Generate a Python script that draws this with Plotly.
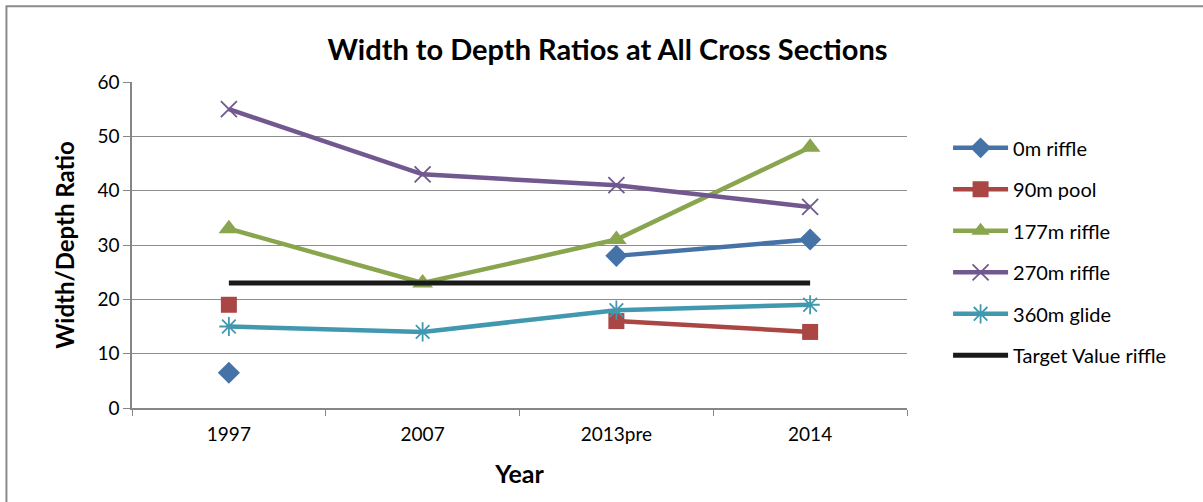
import plotly.graph_objects as go

years = ["1997", "2007", "2013pre", "2014"]

riffle_0m = [6.5, None, 28, 31]
pool_90m = [19, None, 16, 14]
riffle_177m = [33, 23, 31, 48]
riffle_270m = [55, 43, 41, 37]
glide_360m = [15, 14, 18, 19]
target_riffle = [23, 23, 23, 23]

FONT = "Lato"

series = [
    ("0m riffle", riffle_0m, "#4572A7", dict(symbol="diamond", size=17)),
    ("90m pool", pool_90m, "#AA4643", dict(symbol="square", size=16)),
    ("177m riffle", riffle_177m, "#89A54E", dict(symbol="triangle-up", size=18)),
    ("270m riffle", riffle_270m, "#71588F",
     dict(symbol="x-thin-open", size=16, line=dict(width=1.8, color="#71588F"))),
    ("360m glide", glide_360m, "#4198AF",
     dict(symbol="asterisk-open", size=16, line=dict(width=1.8, color="#4198AF"))),
]

fig = go.Figure()
for i, (name, vals, color, marker) in enumerate(series):
    fig.add_trace(go.Scatter(
        x=years, y=vals, name=name, mode="lines+markers",
        line=dict(color=color, width=4.5),
        marker=dict(color=color, **marker),
        connectgaps=False, legendgroup=f"g{i}",
    ))

fig.add_trace(go.Scatter(
    x=years, y=target_riffle, name="Target Value riffle", mode="lines",
    line=dict(color="#1a1a1a", width=5), legendgroup="g9",
))

fig.update_layout(
    width=1203, height=502,
    margin=dict(l=132, r=296, t=82, b=94),
    paper_bgcolor="white", plot_bgcolor="white",
    font=dict(family=FONT, size=19, color="black"),
    title=dict(text="<b>Width to Depth Ratios at All Cross Sections</b>",
               x=0.505, xanchor="center", y=0.9, yanchor="middle",
               font=dict(family=FONT, size=29, color="black")),
    showlegend=True,
    legend=dict(x=1.053, xanchor="left", y=0.858, yanchor="top",
                font=dict(family=FONT, size=20, color="black"),
                tracegroupgap=12.5, itemwidth=55, bgcolor="rgba(0,0,0,0)"),
    xaxis=dict(
        type="category", range=[-0.5, 3.5],
        showgrid=False, showline=True, linecolor="#868686", linewidth=1.5,
        ticks="outside", ticklen=6, tickcolor="#868686",
        tickson="boundaries", tickfont=dict(size=19), ticklabelstandoff=8,
        title=dict(text="<b>Year</b>", font=dict(size=25), standoff=22),
        zeroline=False,
    ),
    yaxis=dict(
        range=[0, 60], dtick=10,
        showgrid=True, gridcolor="#8c8c8c", gridwidth=1.2,
        showline=True, linecolor="#868686", linewidth=1.5,
        ticks="outside", ticklen=7, tickcolor="#868686",
        tickfont=dict(size=19),
        title=dict(text="<b>Width/Depth Ratio</b>", font=dict(size=24), standoff=16),
        zeroline=False,
    ),
    shapes=[dict(type="rect", xref="paper", yref="paper",
                 x0=-0.162, x1=1.5, y0=-0.5, y1=1.232,
                 line=dict(color="#8a8a8a", width=2), layer="below")],
)

fig.write_html("out.html")
